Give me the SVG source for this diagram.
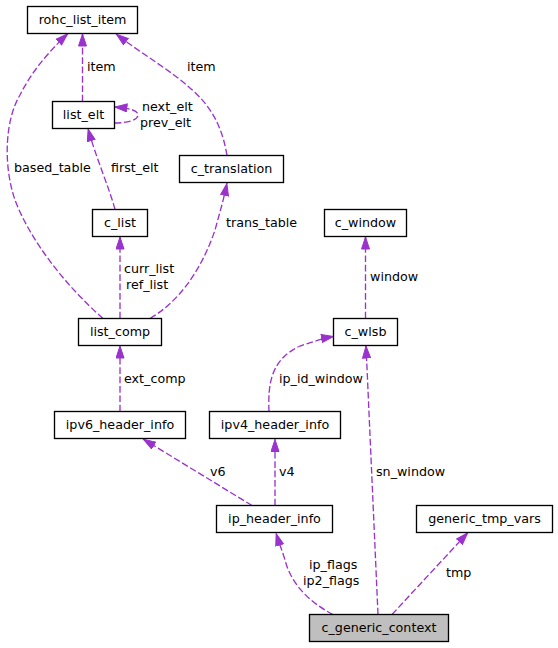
<svg xmlns="http://www.w3.org/2000/svg" width="558" height="648" viewBox="0 0 558 648">
<style>
.node rect{fill:#fff;stroke:#000;stroke-width:1.33}
.node text{font-family:"DejaVu Sans",sans-serif;font-size:12.7px;text-anchor:middle;fill:#000}
.edge path{fill:none;stroke:#9a32cd;stroke-width:1.33;stroke-dasharray:6.7,2.7;marker-end:url(#ah)}
.lbl{font-family:"DejaVu Sans",sans-serif;font-size:12.7px;fill:#000}
</style>
<defs>
<marker id="ah" viewBox="0 0 13 9" refX="13" refY="4.5" markerWidth="13" markerHeight="9" markerUnits="userSpaceOnUse" orient="auto">
<path d="M0.5,0.5 L12.5,4.5 L0.5,8.5 z" fill="#9a32cd" stroke="#9a32cd" stroke-width="1"/>
</marker>
</defs>
<rect width="558" height="648" fill="#fff"/>
<g id="edges" class="edge">
<path d="M82.5,101.5 L82.5,33.5"/>
<path d="M114.5,123 C128,123 138,120 138,115 C138,110 128,108 114.5,107"/>
<path d="M227,155.5 C222,125 210,105 190,88 C170,70 142,54 116,34"/>
<path d="M103,318.5 C65,285 30,240 15,200 C3,165 5,120 20,95 C30,75 45,55 68,33.5"/>
<path d="M115,209.5 C110,190 95,155 88,128.5"/>
<path d="M120,318.5 L120,236.5"/>
<path d="M150,318.5 C185,298 205,260 215,230 C220,212 224,198 227,183"/>
<path d="M365.5,318.5 L365.5,236.5"/>
<path d="M269,411.5 C268,385 270,360 300,346 C315,341 325,338 334,336.5"/>
<path d="M378,614.5 L366,345.5"/>
<path d="M120,411.5 L120,345.5"/>
<path d="M252,505.5 L143,439"/>
<path d="M275,505.5 L275,439"/>
<path d="M333,614.5 C305,600 290,580 285,560 C282,550 279,543 276,533"/>
<path d="M392,614.5 L468,532.5"/>
</g>
<g id="edge-labels" class="lbl">
<text x="87" y="71">item</text>
<text x="142" y="111">next_elt</text>
<text x="140" y="127">prev_elt</text>
<text x="187" y="71">item</text>
<text x="14" y="172">based_table</text>
<text x="111" y="172">first_elt</text>
<text x="124" y="273">curr_list</text>
<text x="126" y="289">ref_list</text>
<text x="226" y="227">trans_table</text>
<text x="370" y="281">window</text>
<text x="279" y="383">ip_id_window</text>
<text x="376" y="476">sn_window</text>
<text x="124" y="383">ext_comp</text>
<text x="210" y="476">v6</text>
<text x="279" y="476">v4</text>
<text x="309" y="569">ip_flags</text>
<text x="303" y="585">ip2_flags</text>
<text x="446" y="577">tmp</text>
</g>
<g id="rohc_list_item" class="node"><rect x="27.5" y="6.5" width="110" height="27"/><text x="82.5" y="24.3">rohc_list_item</text></g>
<g id="list_elt" class="node"><rect x="52.5" y="101.5" width="62" height="27"/><text x="83.5" y="119.3">list_elt</text></g>
<g id="c_translation" class="node"><rect x="179.5" y="155.5" width="104" height="27"/><text x="231.5" y="173.3">c_translation</text></g>
<g id="c_list" class="node"><rect x="92.5" y="209.5" width="55" height="27"/><text x="120" y="227.3">c_list</text></g>
<g id="c_window" class="node"><rect x="324.5" y="209.5" width="82" height="27"/><text x="365.5" y="227.3">c_window</text></g>
<g id="list_comp" class="node"><rect x="78.5" y="318.5" width="83" height="27"/><text x="120" y="336.3">list_comp</text></g>
<g id="c_wlsb" class="node"><rect x="333.5" y="318.5" width="64" height="27"/><text x="365.5" y="336.3">c_wlsb</text></g>
<g id="ipv6_header_info" class="node"><rect x="54.5" y="411.5" width="131" height="27"/><text x="120" y="429.3">ipv6_header_info</text></g>
<g id="ipv4_header_info" class="node"><rect x="209.5" y="411.5" width="131" height="27"/><text x="275" y="429.3">ipv4_header_info</text></g>
<g id="ip_header_info" class="node"><rect x="216.5" y="505.5" width="116" height="27"/><text x="274.5" y="523.3">ip_header_info</text></g>
<g id="generic_tmp_vars" class="node"><rect x="416.5" y="505.5" width="136" height="27"/><text x="484.5" y="523.3">generic_tmp_vars</text></g>
<g id="c_generic_context" class="node"><rect x="309.5" y="614.5" width="139" height="27" style="fill:#bfbfbf"/><text x="379" y="632.3">c_generic_context</text></g>
</svg>
